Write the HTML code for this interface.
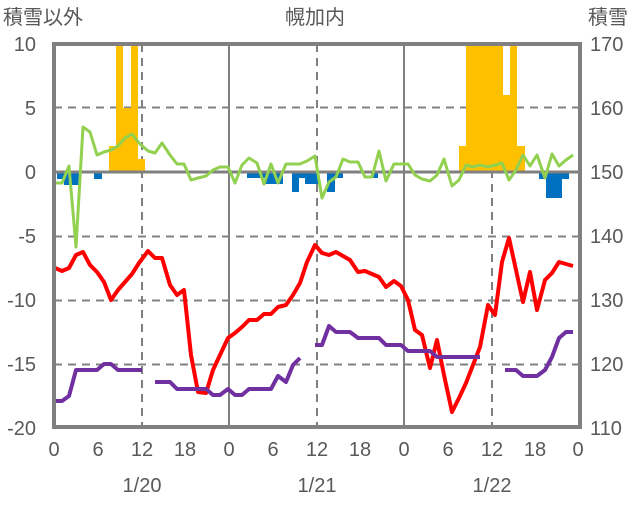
<!DOCTYPE html>
<html><head><meta charset="utf-8"><style>
body{margin:0;background:#fff}
svg text{font-family:"Liberation Sans","Noto Sans CJK JP",sans-serif;fill:#595959;font-size:20px}
</style></head><body>
<svg width="636" height="501" viewBox="0 0 636 501" xmlns="http://www.w3.org/2000/svg">
<rect width="636" height="501" fill="#fff"/>
<!-- gridlines -->
<g stroke="#808080" stroke-width="2" stroke-dasharray="8,6">
<line x1="54" x2="580" y1="107.5" y2="107.5"/>
<line x1="54" x2="580" y1="236.5" y2="236.5"/>
<line x1="54" x2="580" y1="300.5" y2="300.5"/>
<line x1="54" x2="580" y1="364.5" y2="364.5"/>
<line x1="142" x2="142" y1="44" y2="427"/>
<line x1="317" x2="317" y1="44" y2="427"/>
<line x1="492" x2="492" y1="44" y2="427"/>
</g>
<g stroke="#808080" stroke-width="2">
<line x1="229" x2="229" y1="44" y2="427"/>
<line x1="404" x2="404" y1="44" y2="427"/>
</g>
<!-- yellow bars -->
<g fill="#FFC000">
<rect x="109" y="146" width="7" height="26"/>
<rect x="116" y="44" width="7" height="128"/>
<rect x="123" y="108" width="8" height="64"/>
<rect x="131" y="44" width="7" height="128"/>
<rect x="138" y="159" width="7" height="13"/>
<rect x="459" y="146" width="7" height="26"/>
<rect x="466" y="44" width="37" height="128"/>
<rect x="503" y="95" width="7" height="77"/>
<rect x="510" y="44" width="7" height="128"/>
<rect x="517" y="146" width="8" height="26"/>
</g>
<!-- blue bars -->
<g fill="#0070C0">
<rect x="57" y="172" width="7" height="7"/>
<rect x="64" y="172" width="15" height="13"/>
<rect x="94" y="172" width="8" height="7"/>
<rect x="247" y="172" width="18" height="6"/>
<rect x="265" y="172" width="18" height="12"/>
<rect x="292" y="172" width="7" height="20"/>
<rect x="299" y="172" width="6" height="6"/>
<rect x="305" y="172" width="14" height="12"/>
<rect x="327" y="172" width="8" height="20"/>
<rect x="335" y="172" width="8" height="6"/>
<rect x="371" y="172" width="7" height="6"/>
<rect x="539" y="172" width="7" height="7"/>
<rect x="546" y="172" width="16" height="26"/>
<rect x="562" y="172" width="7" height="7"/>
</g>
<line x1="54" x2="580" y1="172" y2="172" stroke="#808080" stroke-width="3"/>
<!-- green -->
<polyline fill="none" stroke="#92D050" stroke-width="3" stroke-linejoin="round" points="55,183 62,183 69,166 76,247 83,127 90,132 97,155 104,152 111,150 118,146 125,138 132,134 139,143 148,151 155,153 162,143 170,155 177,164 184,164 191,180 198,178 206,176 213,170 220,167 228,167 235,183 242,165 249,158 257,163 264,184 271,164 278,183 286,164 293,164 300,164 307,161 315,156 322,198 329,182 336,177 343,159 350,162 358,162 365,177 372,177 379,151 386,181 394,164 401,164 408,164 415,175 422,179 430,181 437,175 444,159 452,186 459,180 466,165 473,167 480,165 488,167 495,165 502,163 509,180 516,170 523,155 530,166 537,155 545,178 552,154 559,166 566,160 573,155"/>
<!-- red -->
<polyline fill="none" stroke="#FF0000" stroke-width="4" stroke-linejoin="round" points="55,268 62,271 69,268 76,255 83,252 90,265 97,272 104,282 111,300 118,290 125,282 132,274 139,263 148,251 155,258 162,258 170,285 177,295 184,290 191,355 198,392 206,393 213,370 220,355 228,338 235,333 242,327 249,320 257,320 264,314 271,314 278,307 286,305 293,295 300,283 307,262 315,245 322,253 329,255 336,252 343,256 350,260 358,272 365,271 372,274 379,277 386,287 394,281 401,286 408,300 415,330 422,335 430,368 437,340 444,375 452,412 459,398 466,383 473,365 480,347 488,305 495,315 502,262 509,238 516,270 523,302 530,272 537,310 545,280 552,273 559,262 566,264 573,266"/>
<!-- purple -->
<g fill="none" stroke="#7030A0" stroke-width="4" stroke-linejoin="round">
<polyline points="55,401 62,401 69,396 76,370 83,370 90,370 97,370 104,364 111,364 118,370 125,370 132,370 142,370"/>
<polyline points="155,382 162,382 170,382 177,389 184,389 191,389 198,389 206,389 213,395 220,395 228,389 235,395 242,395 249,389 257,389 264,389 271,389 278,376 286,382 293,365 300,358"/>
<polyline points="315,345 322,345 329,326 336,332 343,332 350,332 358,338 365,338 372,338 379,338 386,345 394,345 401,345 408,351 415,351 422,351 430,351 437,357 444,357 452,357 459,357 466,357 473,357 480,357"/>
<polyline points="505,370 516,370 523,376 530,376 537,376 545,370 552,357 559,338 566,332 573,332"/>
</g>
<!-- border -->
<rect x="54" y="44" width="526" height="383" fill="none" stroke="#808080" stroke-width="4"/>
<!-- left labels -->
<g text-anchor="end">
<text x="36" y="51">10</text>
<text x="36" y="115">5</text>
<text x="36" y="179">0</text>
<text x="36" y="243">-5</text>
<text x="36" y="307">-10</text>
<text x="36" y="371">-15</text>
<text x="36" y="435">-20</text>
</g>
<g text-anchor="start">
<text x="590" y="51">170</text>
<text x="590" y="115">160</text>
<text x="590" y="179">150</text>
<text x="590" y="243">140</text>
<text x="590" y="307">130</text>
<text x="590" y="371">120</text>
<text x="590" y="435">110</text>
</g>
<g text-anchor="middle">
<text x="54" y="456">0</text><text x="98" y="456">6</text><text x="142" y="456">12</text><text x="185" y="456">18</text>
<text x="229" y="456">0</text><text x="273" y="456">6</text><text x="317" y="456">12</text><text x="360" y="456">18</text>
<text x="404" y="456">0</text><text x="448" y="456">6</text><text x="492" y="456">12</text><text x="535" y="456">18</text>
<text x="578" y="456">0</text>
<text x="142" y="492">1/20</text><text x="317" y="492">1/21</text><text x="492" y="492">1/22</text>
<text x="315" y="24">幌加内</text>
</g>
<text x="3" y="24">積雪以外</text>
<text x="588" y="24">積雪</text>
</svg>
</body></html>
